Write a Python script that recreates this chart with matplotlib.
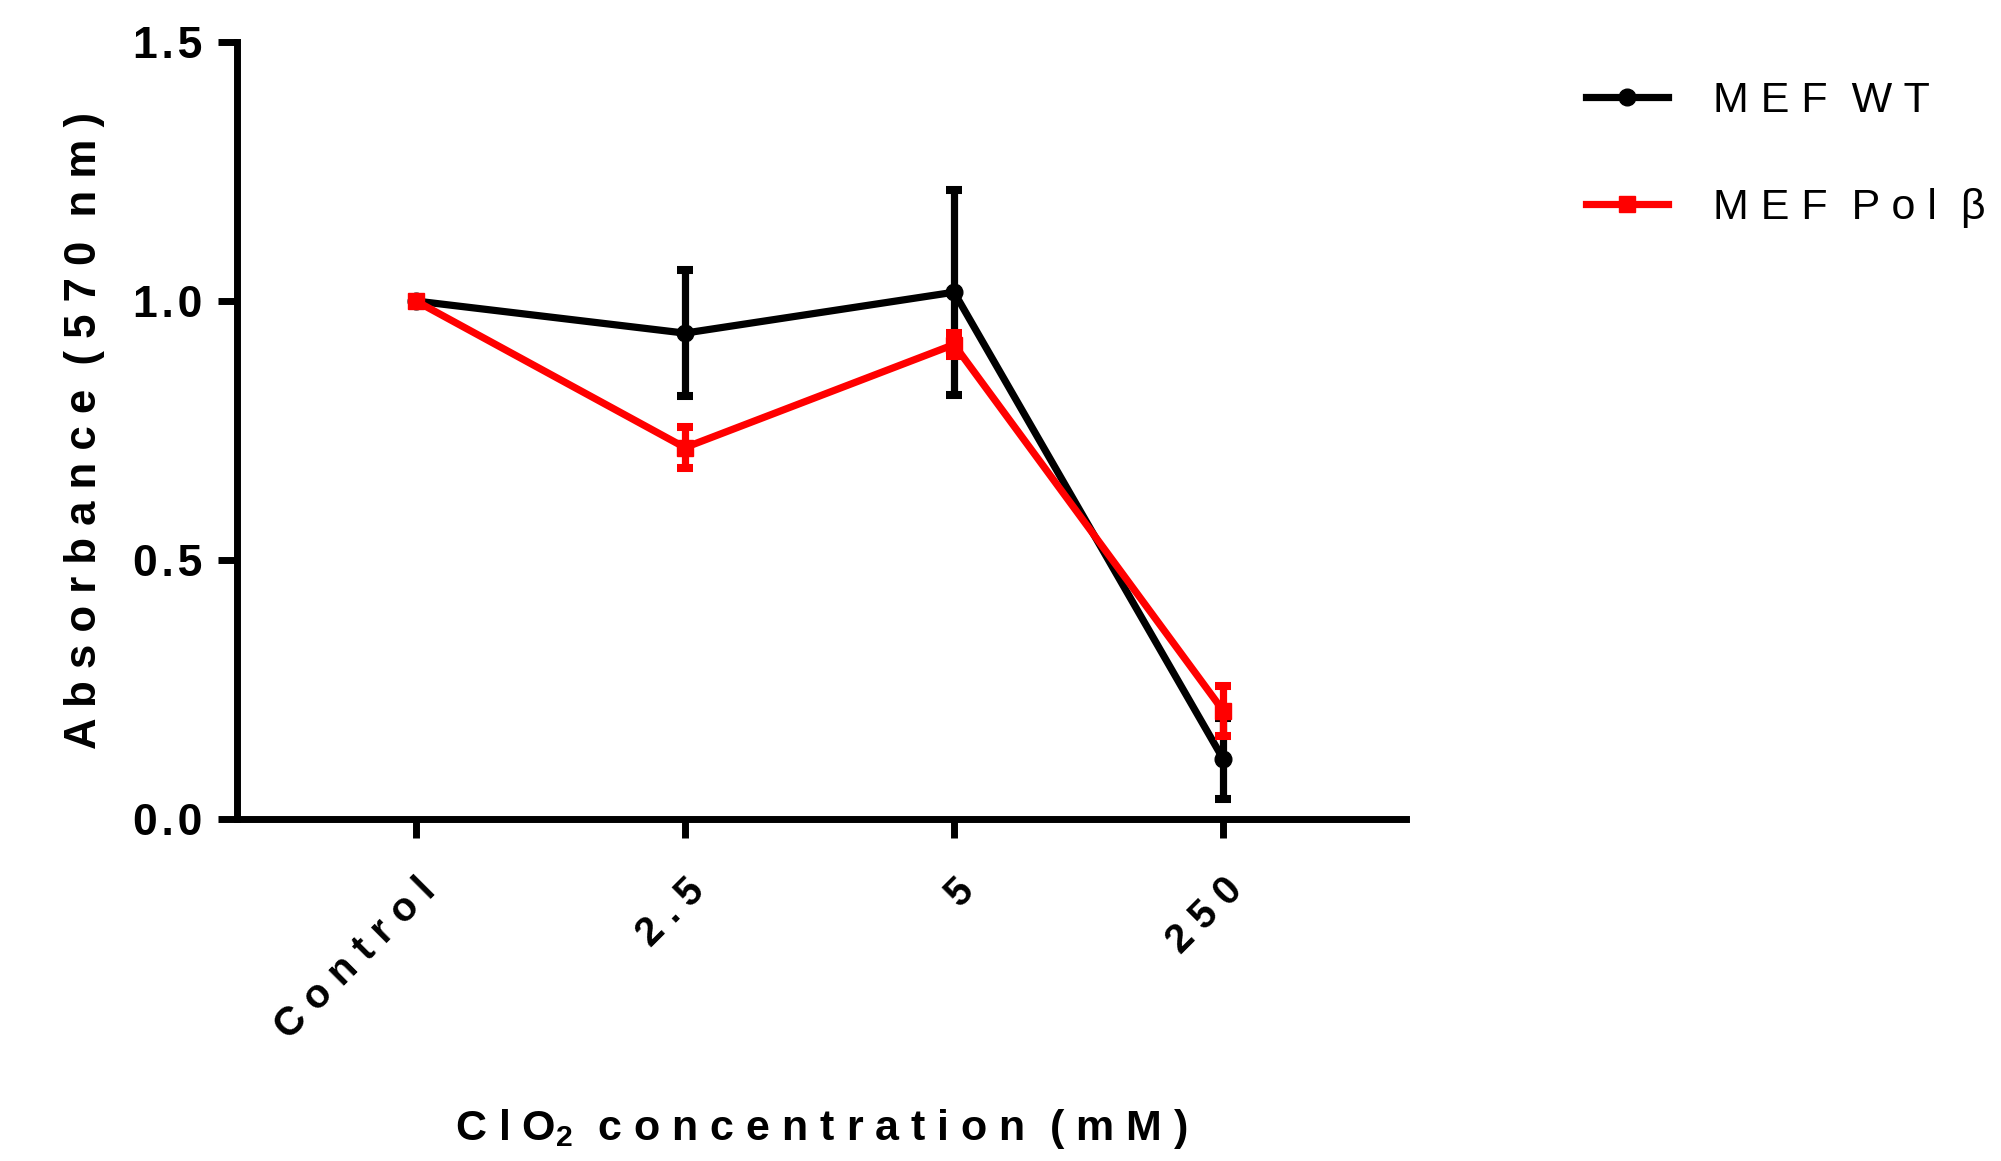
import numpy as np
import matplotlib
matplotlib.use("Agg")
import matplotlib.pyplot as plt
import matplotlib.transforms as mtransforms
from matplotlib.lines import Line2D

# data
categories = ["Control", "2.5", "5", "250"]
wt_mean = [1.00, 0.938, 1.017, 0.116]
wt_err = [0.0, 0.122, 0.198, 0.078]
pol_mean = [1.00, 0.717, 0.916, 0.209]
pol_err = [0.0, 0.040, 0.022, 0.048]
yticks = [0.0, 0.5, 1.0, 1.5]
series = ["MEF WT", "MEF Pol β"]

plt.rcParams["font.family"] = ["Liberation Sans", "DejaVu Sans"]
plt.rcParams["mathtext.fontset"] = "custom"
plt.rcParams["mathtext.bf"] = "Liberation Sans:bold"
plt.rcParams["mathtext.rm"] = "Liberation Sans"
HAIR = "\u200a"
RED = "#ff0000"
LW = 5.2


def sp(s, sep=" "):
    # GraphPad-style letter spacing; word gaps get two separators
    return "  ".join(sep.join(w) for w in s.split(" "))


fig = plt.figure(figsize=(20.01, 11.61), dpi=100)
ax = fig.add_axes([0.1184, 0.2946, 0.7027 - 0.1184, 0.9638 - 0.2946])

x = np.arange(len(categories))
ax.errorbar(x, wt_mean, yerr=wt_err, color="black", lw=LW, marker="o", ms=12,
            capsize=6, capthick=5.8, elinewidth=LW, zorder=3)
ax.errorbar(x, pol_mean, yerr=pol_err, color=RED, lw=LW, marker="s", ms=12,
            capsize=6, capthick=5.8, elinewidth=LW, zorder=4)

ax.set_xlim(-0.665, 3.68)
ax.set_ylim(0, 1.5)
ax.set_yticks(yticks)
ax.set_yticklabels([sp(f"{v:.1f}", HAIR) for v in yticks], fontsize=32, fontweight="bold")
ax.set_xticks(x)
ax.set_xticklabels([sp(c) for c in categories], rotation=45, ha="right", va="top",
                   rotation_mode="anchor", fontsize=29, fontweight="bold")
shift = mtransforms.ScaledTranslation(12 / 100, 0, fig.dpi_scale_trans)
for lab in ax.get_xticklabels():
    lab.set_transform(lab.get_transform() + shift)

for s in ("top", "right"):
    ax.spines[s].set_visible(False)
for s in ("left", "bottom"):
    ax.spines[s].set_linewidth(5)
ax.tick_params(axis="both", width=5, length=14)
ax.tick_params(axis="y", pad=11)
ax.tick_params(axis="x", pad=23.5)

ax.set_ylabel(sp("Absorbance (570 nm)"), fontsize=31.5, fontweight="bold", labelpad=20)
ax.set_xlabel(r"C l O$_{\mathbf{2}}$  " + sp("concentration (mM)"), fontsize=31,
              fontweight="bold", labelpad=44)

handles = [Line2D([], [], color="black", lw=LW, marker="o", ms=12),
           Line2D([], [], color=RED, lw=LW, marker="s", ms=12)]
ax.legend(handles, [sp(s) for s in series], loc="upper left", bbox_to_anchor=(0.784, 0.945),
          bbox_transform=fig.transFigure, frameon=False, fontsize=31, handlelength=1.9,
          handletextpad=1.05, labelspacing=1.55, borderaxespad=0)

fig.savefig("out.png", dpi=100)
